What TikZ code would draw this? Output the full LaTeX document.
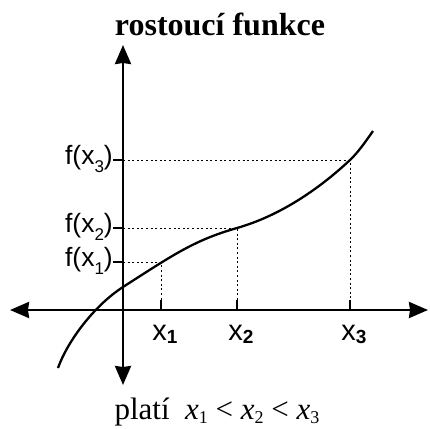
\documentclass[tikz,border=0pt]{standalone}
\usepackage{fontspec}
\setmainfont{Liberation Serif}
\setsansfont{Liberation Sans}
\usetikzlibrary{arrows.meta}
\newcommand{\fsub}[1]{\raisebox{-8pt}{\fontsize{17}{17}\selectfont #1}}
\newcommand{\xsub}[1]{\raisebox{-3pt}{\fontsize{19}{19}\selectfont\bfseries #1}}
\newcommand{\msub}[1]{\raisebox{-4.5pt}{\fontsize{18}{18}\selectfont #1}}
\begin{document}
\begin{tikzpicture}[x=1pt,y=-1pt,
  axis/.style={line width=2.6pt},
  guide/.style={line width=0.9pt, dash pattern=on 2pt off 2.6pt},
  tickmark/.style={line width=1.2pt},
  flabel/.style={anchor=base east, inner sep=0pt, font=\sffamily\fontsize{26.5}{30}\selectfont},
  xlabel/.style={anchor=base, inner sep=0pt, font=\sffamily\fontsize{29}{32}\selectfont}]
\useasboundingbox (0,0) rectangle (430,428);

% axes
\coordinate (left) at (10,310);
\coordinate (right) at (428,310);
\coordinate (top) at (123,45);
\coordinate (bottom) at (123,385);
\draw[axis, {Stealth[length=19pt,width=16pt,inset=1pt]}-{Stealth[length=19pt,width=16pt,inset=1pt]}] (left) -- (right);
\draw[axis, {Stealth[length=19pt,width=16pt,inset=1pt]}-{Stealth[length=19pt,width=16pt,inset=1pt]}] (bottom) -- (top);

% points on the curve
\coordinate (p1) at (161,262);
\coordinate (p2) at (237,228);
\coordinate (p3) at (350,160);

% curve
\draw[line width=2.3pt] (58,368) .. controls (68,340) and (95,305) .. (123,287)
  .. controls (175,253.6) and (195,240) .. (p2)
  .. controls (279,216) and (318,190) .. (p3)
  .. controls (358,152.5) and (366,141) .. (373,131);

% ticks and guides
\draw[tickmark] (113,262) -- (123,262);
\draw[tickmark] (113,228) -- (123,228);
\draw[tickmark] (113,160) -- (123,160);
\draw[tickmark] (161,300) -- (161,310);
\draw[tickmark] (237,300) -- (237,310);
\draw[tickmark] (350,300) -- (350,310);
\draw[guide] (123,262) -- (p1) -- (161,300);
\draw[guide] (123,228) -- (p2) -- (237,300);
\draw[guide] (123,160) -- (p3) -- (350,300);

% labels
\node[flabel] (f1) at (113,266.5) {f(x\fsub{1})};
\node[flabel] (f2) at (113,232.5) {f(x\fsub{2})};
\node[flabel] (f3) at (113,164.5) {f(x\fsub{3})};
\node[xlabel] (x1) at (165,340) {x\xsub{1}};
\node[xlabel] (x2) at (241,340) {x\xsub{2}};
\node[xlabel] (x3) at (354,340) {x\xsub{3}};

\node[anchor=base, inner sep=0pt, font=\bfseries\fontsize{32}{36}\selectfont] (title) at (220,36) {rostoucí funkce};
\node[anchor=base, inner sep=0pt, font=\fontsize{31}{36}\selectfont] (rule) at (217,419)
  {platí\ \ \textit{x}\msub{1} < \textit{x}\msub{2} < \textit{x}\msub{3}};
\end{tikzpicture}
\end{document}
